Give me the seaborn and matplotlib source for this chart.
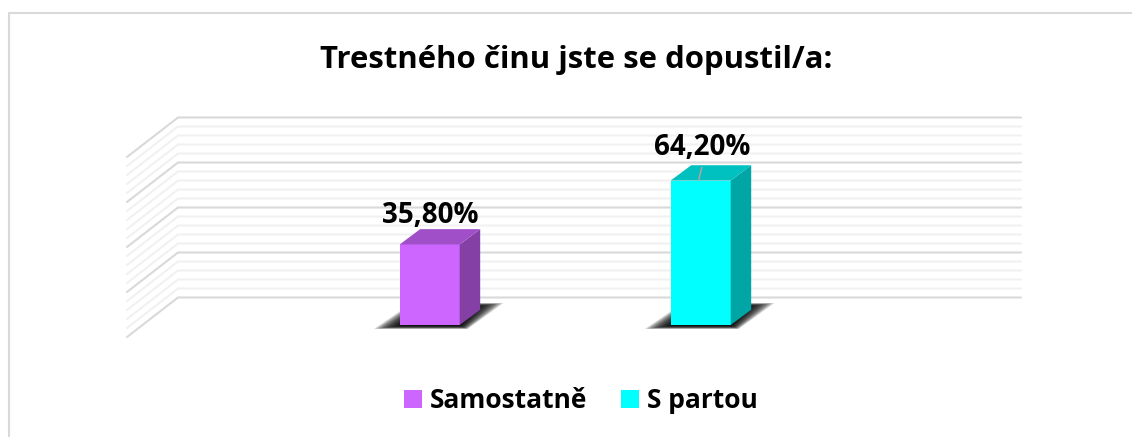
import matplotlib
matplotlib.use('Agg')
import matplotlib.pyplot as plt
import pandas as pd
import seaborn as sns
from matplotlib.lines import Line2D
from matplotlib.patches import Polygon

# values
categories = ['Samostatně', 'S partou']
values = [35.8, 64.2]
value_labels = ['35,80%', '64,20%']
label_gaps = [14, 19]
front_colors = ['#CC66FF', '#00FFFF']
top_colors = ['#A04FC8', '#00C0C0']
side_colors = ['#8540A6', '#00A5A5']
major_ticks = [0, 20, 40, 60, 80]
minor_ticks = [4, 8, 12, 16, 24, 28, 32, 36, 44, 48, 52, 56, 64, 68, 72, 76]

W, H = 1132, 437
PX_X = 271.0    # pixels between categories
PX_Y = 2.25     # pixels per percent
X0, Y0 = 429.7, 325.0   # pixel of first category / zero line

sns.set_theme(style='white')
plt.rcParams['font.family'] = ['Open Sans', 'DejaVu Sans']

fig = plt.figure(figsize=(W / 100, H / 100), dpi=100)
ax = fig.add_axes([0, 0, 1, 1])

df = pd.DataFrame({'kategorie': categories, 'procenta': values})
sns.barplot(data=df, x='kategorie', y='procenta', hue='kategorie', hue_order=categories,
            palette=front_colors, width=60 / PX_X, dodge=False, saturation=1, legend=True,
            linewidth=0, ax=ax, zorder=5)

ax.set_xlim(-X0 / PX_X, (W - X0) / PX_X)
ax.set_ylim((Y0 - H) / PX_Y, Y0 / PX_Y)


def dx(px):
    return px / PX_X


def dy(px):
    return px / PX_Y


def xp(px):
    return (px - X0) / PX_X


# back wall and left wall lines
for ticks, color in [(minor_ticks, '#F1F1F1'), (major_ticks, '#D9D9D9')]:
    for v in ticks:
        back = v + dy(Y0 - 297.5)
        front = v + dy(Y0 - 337)
        ax.plot([xp(127), xp(178), xp(1021)], [front, back, back], color=color, lw=1.5,
                solid_joinstyle='miter', zorder=1)

# faces and shadows taken from the seaborn bars
bars = [c[0] for c in ax.containers]
for bar, val, label, gap, top, side in zip(bars, values, value_labels, label_gaps,
                                           top_colors, side_colors):
    x = bar.get_x()
    w = bar.get_width()
    depth_x, depth_y = dx(20.5), dy(15.3)

    # soft floor shadow, stacked transparent layers
    for i in range(30):
        s = i * 0.7
        ax.add_patch(Polygon([(x + dx(-26 + s * 1.8), dy(-4 + s * 0.22)),
                              (x + dx(68 - s * 0.5), dy(-4 + s * 0.22)),
                              (x + dx(104 - s * 1.8), dy(22 - s * 0.22)),
                              (x + dx(12 + s), dy(22 - s * 0.22))],
                             closed=True, fc='black', ec='none', alpha=0.1, zorder=2))

    ax.add_patch(Polygon([(x + w, 0), (x + w + depth_x, depth_y),
                          (x + w + depth_x, val + depth_y), (x + w, val)],
                         closed=True, fc=side, ec='none', zorder=5))
    ax.add_patch(Polygon([(x, val), (x + w, val), (x + w + depth_x, val + depth_y),
                          (x + depth_x, val + depth_y)],
                         closed=True, fc=top, ec='none', zorder=5))
    ax.text(x + w / 2 + dx(1), val + dy(gap), label, ha='center', va='bottom',
            fontsize=20, fontweight='bold', color='black', zorder=7)

# small leader line on the second bar
ax.plot([bars[1].get_x() + dx(28), bars[1].get_x() + dx(31)],
        [values[1] + dy(0.5), values[1] + dy(13)], color='#A6A6A6', lw=1.2, zorder=6)

ax.text(576 / W, 1 - 60 / H, 'Trestného činu jste se dopustil/a:', transform=ax.transAxes,
        ha='center', va='center', fontsize=22.4, fontweight='bold', color='black')

sns.move_legend(ax, 'center', bbox_to_anchor=(581 / W, 1 - 401 / H), ncol=2, frameon=False,
                title=None, handlelength=0.68, handleheight=0.68, handletextpad=0.3,
                columnspacing=1.29, prop={'weight': 'bold', 'size': 19})
for text in ax.get_legend().get_texts():
    text.set_color('black')

ax.set_axis_off()

# chart frame, only top and left are inside the crop
fig.add_artist(Line2D([9 / W, 9 / W, 1], [0, 1 - 13 / H, 1 - 13 / H], transform=fig.transFigure,
                      color='#D9D9D9', lw=1.5, solid_joinstyle='miter'))

fig.savefig('out.png', dpi=100)
